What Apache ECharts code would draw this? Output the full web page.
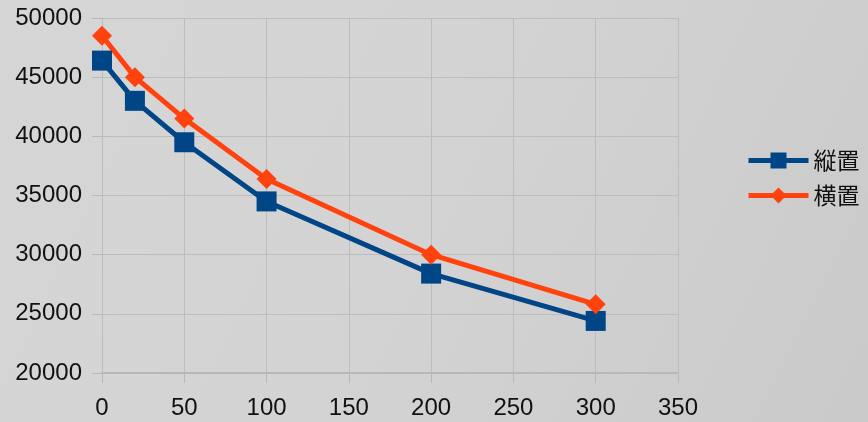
<!DOCTYPE html>
<html>
<head>
<meta charset="utf-8">
<script src="https://cdn.jsdelivr.net/npm/echarts@6/dist/echarts.min.js"></script>
<style>
html,body{margin:0;padding:0;}
#chart{width:868px;height:422px;}
</style>
</head>
<body>
<div id="chart"></div>
<script>
var xValues = [0, 20, 50, 100, 200, 300];
var tateValues = [46400, 43000, 39500, 34500, 28400, 24400];
var yokoValues = [48500, 45000, 41500, 36400, 30000, 25800];
var seriesNames = ['縦置', '横置'];

function pairs(xs, ys) {
  return xs.map(function (x, i) { return [x, ys[i]]; });
}

var myChart = echarts.init(document.getElementById('chart'));
var option = {
  animation: false,
  backgroundColor: {
    type: 'linear', x: 0, y: 0, x2: 1, y2: 1,
    colorStops: [
      {offset: 0, color: '#d6d6d6'},
      {offset: 0.5, color: '#d3d3d3'},
      {offset: 1, color: '#cacaca'}
    ]
  },
  grid: {left: 102, right: 190, top: 18, bottom: 49},
  legend: {
    orient: 'vertical',
    left: 741,
    top: 144,
    itemWidth: 60,
    itemHeight: 20,
    itemGap: 12,
    lineStyle: {width: 5},
    textStyle: {fontSize: 23, color: '#111', fontFamily: 'Noto Sans CJK JP'},
    data: seriesNames
  },
  xAxis: {
    type: 'value',
    min: 0, max: 350, interval: 50,
    axisLine: {show: true, lineStyle: {color: '#b8b8b8', width: 2}},
    axisTick: {show: true, length: 10, lineStyle: {color: '#b8b8b8', width: 1}},
    axisLabel: {fontSize: 24, color: '#111', fontFamily: 'Liberation Sans', margin: 23},
    splitLine: {show: true, lineStyle: {color: '#bdbdbd', width: 1}}
  },
  yAxis: {
    type: 'value',
    min: 20000, max: 50000, interval: 5000,
    axisLine: {show: false},
    axisTick: {show: true, length: 10, lineStyle: {color: '#b8b8b8', width: 1}},
    axisLabel: {fontSize: 24, color: '#111', fontFamily: 'Liberation Sans', margin: 20,
      formatter: function (v) { return String(v); }},
    splitLine: {show: true, lineStyle: {color: '#bdbdbd', width: 1}}
  },
  series: [
    {
      name: seriesNames[0],
      type: 'line',
      data: pairs(xValues, tateValues),
      symbol: 'rect',
      symbolSize: 20,
      lineStyle: {color: '#004586', width: 5},
      itemStyle: {color: '#004586'}
    },
    {
      name: seriesNames[1],
      type: 'line',
      data: pairs(xValues, yokoValues),
      symbol: 'diamond',
      symbolSize: 20,
      lineStyle: {color: '#ff420e', width: 5},
      itemStyle: {color: '#ff420e'}
    }
  ]
};
myChart.setOption(option);
</script>
</body>
</html>
